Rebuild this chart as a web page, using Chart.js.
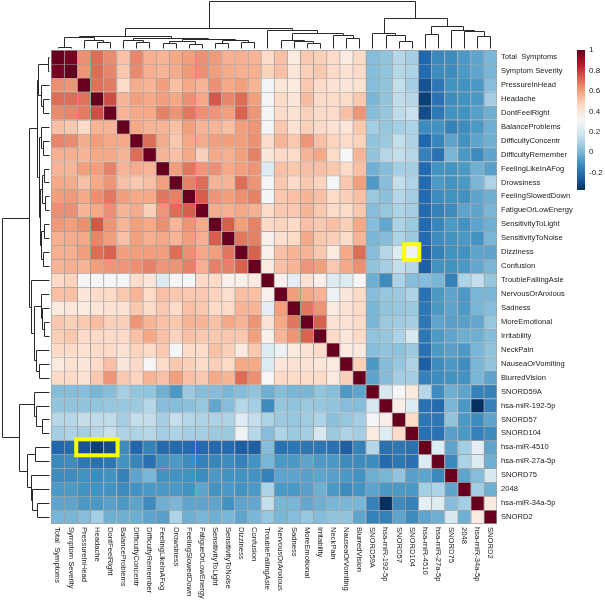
<!DOCTYPE html>
<html>
<head>
<meta charset="utf-8">
<title>Symptom / miRNA correlation heatmap</title>
<script src="https://cdn.jsdelivr.net/npm/chart.js@4.4.1/dist/chart.umd.min.js"></script>
<style>
  html, body { margin: 0; padding: 0; background: #fff; }
  canvas { display: block; }
</style>
</head>
<body>
<canvas id="heatmap" width="605" height="600"></canvas>
<script>
// variables, in the clustered order used for both rows and columns
const variables = [
    'Total  Symptoms', 'Symptom Severity', 'PressureInHead', 'Headache', 'DontFeelRight',
    'BalanceProblems', 'DifficultyConcentr', 'DifficultyRemember', 'FeelingLikeInAFog',
    'Drowsiness', 'FeelingSlowedDown', 'FatigueOrLowEnergy', 'SensitivityToLight',
    'SensitivityToNoise', 'Dizziness', 'Confusion', 'TroubleFallingAsle', 'NervousOrAnxious',
    'Sadness', 'MoreEmotional', 'Irritability', 'NeckPain', 'NauseaOrVomiting', 'BlurredVision',
    'SNORD59A', 'hsa-miR-192-5p', 'SNORD57', 'SNORD104', 'hsa-miR-4510', 'hsa-miR-27a-5p',
    'SNORD75', '2048', 'hsa-miR-34a-5p', 'SNORD2'
];

// upper triangle of the correlation matrix: row i holds columns i+1 .. 33
const corrUpper = [
    [.97, .63, .70, .64, .52, .65, .56, .55, .58, .60, .63, .61, .56, .56, .55, .45, .52, .38, .50, .48, .45, .38, .45, .02, .04, .12, .08, -.23, -.13, -.12, -.08, -.05, 0],
    [.62, .70, .65, .50, .64, .56, .55, .57, .61, .63, .60, .57, .56, .56, .47, .52, .40, .48, .50, .45, .42, .45, .02, .04, .12, .10, -.22, -.12, -.12, -.08, -.05, 0],
    [.69, .67, .45, .57, .55, .60, .52, .58, .55, .63, .58, .60, .55, .30, .40, .38, .50, .45, .42, .40, .42, .02, .04, .15, .08, -.28, -.18, -.10, -.10, -.08, .02],
    [.76, .55, .60, .58, .60, .58, .63, .58, .74, .65, .70, .60, .30, .45, .40, .53, .45, .45, .45, .50, 0, .04, .14, .12, -.33, -.20, -.12, -.10, -.08, .08],
    [.55, .58, .58, .66, .62, .68, .63, .62, .60, .72, .62, .30, .45, .42, .48, .45, .45, .52, .62, .02, .05, .14, .16, -.30, -.18, -.10, -.10, -.06, -.02],
    [.58, .55, .55, .52, .60, .55, .55, .52, .60, .62, .30, .50, .42, .48, .45, .42, .40, .50, .08, .05, .08, .10, -.12, -.10, -.15, -.12, -.08, -.02],
    [.70, .57, .50, .58, .57, .60, .60, .60, .63, .44, .55, .50, .62, .52, .47, .45, .47, .04, .06, .15, .10, -.23, -.14, -.05, -.10, -.05, -.02],
    [.55, .52, .58, .48, .58, .56, .60, .66, .40, .45, .45, .55, .58, .45, .32, .55, .04, .12, .15, .12, -.15, -.20, 0, -.08, -.12, -.05],
    [.60, .68, .62, .63, .58, .60, .62, .22, .52, .50, .52, .52, .50, .45, .52, -.02, .02, .08, .08, -.22, -.10, -.10, -.08, -.02, -.06],
    [.66, .70, .55, .55, .70, .62, .30, .50, .45, .50, .47, .30, .50, .60, -.08, .02, .15, .10, -.22, -.08, -.10, -.08, 0, .10],
    [.73, .62, .60, .63, .66, .30, .50, .52, .55, .52, .45, .48, .52, .06, .03, .12, .08, -.22, -.12, -.10, -.10, -.05, -.02],
    [.57, .56, .58, .56, .45, .50, .50, .55, .50, .45, .45, .50, .02, .05, .10, .08, -.22, -.15, -.12, -.05, -.05, 0],
    [.73, .60, .66, .45, .47, .45, .52, .50, .52, .48, .58, .02, -.04, .10, .06, -.22, -.14, -.08, -.10, -.05, -.02],
    [.68, .66, .35, .43, .45, .58, .50, .48, .45, .55, 0, .02, .10, .06, -.22, -.12, -.10, -.08, -.10, 0],
    [.72, .35, .52, .55, .55, .50, .38, .58, .70, .02, .12, .22, .28, -.25, -.15, -.10, -.10, -.05, -.05],
    [.38, .52, .55, .62, .60, .50, .58, .63, .04, .08, .15, .12, -.25, -.10, -.10, -.08, -.04, 0],
    [.35, .25, .42, .35, .22, .22, .32, -.02, -.12, .10, .02, .02, 0, -.15, .10, .15, .05],
    [.60, .58, .55, .28, .40, .45, .02, .05, .06, .10, -.20, -.08, -.05, -.08, 0, 0],
    [.68, .62, .38, .42, .45, 0, .04, .05, .06, -.18, -.08, -.05, -.08, 0, .02],
    [.72, .42, .42, .45, 0, .06, .07, .08, -.18, -.05, -.06, -.06, -.04, .05],
    [.45, .40, .45, .04, .05, .10, .20, -.18, -.08, -.05, -.02, -.02, .02],
    [.38, .38, .02, .04, .03, .06, -.20, -.08, -.06, -.08, 0, .04],
    [.48, -.08, .02, .05, .10, -.25, -.12, -.08, -.12, 0, .04],
    [-.05, .02, .08, .08, -.15, -.12, -.10, -.10, 0, -.05],
    [.20, .30, .38, .12, -.12, -.02, -.05, -.15, -.15],
    [.36, .22, -.20, -.22, 0, -.08, -.37, -.15],
    [.45, -.18, -.18, .04, -.08, -.12, -.05],
    [-.20, -.20, -.06, -.08, -.15, -.12],
    [.22, -.05, .08, .25, -.05],
    [-.13, .10, .22, -.02],
    [-.05, .02, .20],
    [.08, -.02],
    [.38]
];

// cluster tree (same for rows and columns): [left, right, height], leaves are variable indices
const clusterTree = [
    [
        [
            [[0, 1, 3], [2, [3, 4, 12], 16], 22],
            [[5, [6, 7, 12], 17], [[[8, 9, 10], [10, 11, 9], 14], [[12, 13, 10], [14, 15, 12], 16], 19], 21],
            25
        ],
        [16, [[17, [18, [19, 20, 10], 14], 17], [21, [22, 23, 21], 27], 32], 37],
        41
    ],
    [
        [24, [25, [26, 27, 14], 28], 31],
        [[28, 29, 29], [30, [31, [32, 33, 25], 36], 38], 46],
        63
    ],
    98
];

// highlighted cells: one row, one or more neighbouring columns
const highlights = [
    { row: 'Dizziness', cols: ['SNORD104'] },
    { row: 'hsa-miR-4510', cols: ['PressureInHead', 'Headache', 'DontFeelRight'] }
];

const legendTicks = [1, 0.8, 0.6, 0.4, 0.2, 0, -0.2];

// --- colour scale (RdBu, blue -> white -> red) ---
const RDBU = ['#053061', '#2166ac', '#4393c3', '#92c5de', '#d1e5f0', '#f7f7f7',
              '#fddbc7', '#f4a582', '#d6604d', '#b2182b', '#67001f'];
const VMIN = -0.37, VMAX = 1;

function hexRgb(h) {
    return [1, 3, 5].map(i => parseInt(h.slice(i, i + 2), 16));
}

function colorFor(v) {
    let t = (v - VMIN) / (VMAX - VMIN) * (RDBU.length - 1);
    t = Math.max(0, Math.min(RDBU.length - 1, t));
    const i = Math.min(Math.floor(t), RDBU.length - 2);
    const f = t - i;
    const a = hexRgb(RDBU[i]), b = hexRgb(RDBU[i + 1]);
    const c = a.map((x, k) => Math.round(x + (b[k] - x) * f));
    return `rgb(${c[0]},${c[1]},${c[2]})`;
}

// full symmetric matrix from the upper triangle
const n = variables.length;
const corr = variables.map(() => new Array(n).fill(1));
corrUpper.forEach((row, i) => {
    row.forEach((v, k) => {
        const j = i + 1 + k;
        corr[i][j] = v;
        corr[j][i] = v;
    });
});

const FONT = "'Liberation Sans', Arial, sans-serif";
const LABEL_SIZE = 7.6;
const TEXT = '#1a1a1a';

// dendrograms on the left (rows) and top (columns)
const dendroPlugin = {
    id: 'dendro',
    afterDraw(chart) {
        const { ctx, chartArea, scales } = chart;
        const unit = 0.48; // px per height unit
        const crisp = v => Math.round(v) + 0.5;

        function walk(node, leafPos, draw) {
            if (typeof node === 'number') return { p: leafPos(node), h: 0 };
            const a = walk(node[0], leafPos, draw);
            const b = walk(node[1], leafPos, draw);
            draw(a, b, node[2]);
            return { p: (a.p + b.p) / 2, h: node[2] };
        }
        function line(x1, y1, x2, y2) {
            ctx.beginPath();
            ctx.moveTo(crisp(x1), crisp(y1));
            ctx.lineTo(crisp(x2), crisp(y2));
            ctx.stroke();
        }

        ctx.save();
        ctx.strokeStyle = '#2a2a2a';
        ctx.lineWidth = 1;

        // rows, on the left
        const hx = h => chartArea.left - 2 - h * unit;
        walk(clusterTree, i => scales.y.getPixelForValue(i + 0.5), (a, b, h) => {
            const x = hx(h);
            line(hx(a.h), a.p, x, a.p);
            line(hx(b.h), b.p, x, b.p);
            line(x, a.p, x, b.p);
        });

        // columns, on top
        const hy = h => chartArea.top - 2 - h * unit;
        walk(clusterTree, i => scales.x.getPixelForValue(i), (a, b, h) => {
            const y = hy(h);
            line(a.p, hy(a.h), a.p, y);
            line(b.p, hy(b.h), b.p, y);
            line(a.p, y, b.p, y);
        });
        ctx.restore();
    }
};

// column labels, reading downward under the heatmap
const colLabelPlugin = {
    id: 'colLabels',
    afterDraw(chart) {
        const { ctx, chartArea, scales } = chart;
        ctx.save();
        ctx.fillStyle = TEXT;
        ctx.font = `${LABEL_SIZE}px ${FONT}`;
        ctx.textAlign = 'left';
        ctx.textBaseline = 'middle';
        variables.forEach((name, i) => {
            ctx.save();
            ctx.translate(scales.x.getPixelForValue(i), chartArea.bottom + 3);
            ctx.rotate(Math.PI / 2);
            ctx.fillText(name, 0, 0);
            ctx.restore();
        });
        ctx.restore();
    }
};

// yellow boxes around highlighted cells
const highlightPlugin = {
    id: 'highlights',
    afterDatasetsDraw(chart) {
        const { ctx, scales } = chart;
        ctx.save();
        ctx.strokeStyle = '#ffff00';
        ctx.lineWidth = 4;
        highlights.forEach(hl => {
            const r = variables.indexOf(hl.row);
            const cs = hl.cols.map(c => variables.indexOf(c));
            const x0 = scales.x.getPixelForValue(Math.min(...cs) - 0.5);
            const x1 = scales.x.getPixelForValue(Math.max(...cs) + 0.5);
            const y0 = scales.y.getPixelForValue(r);
            const y1 = scales.y.getPixelForValue(r + 1);
            ctx.strokeRect(x0 - 1, y0 - 1, x1 - x0 + 2, y1 - y0 + 2);
        });
        ctx.restore();
    }
};

// colour key on the right
const colorKeyPlugin = {
    id: 'colorKey',
    afterDraw(chart) {
        const { ctx } = chart;
        const left = 577, width = 8, top = 50, height = 140;
        const yOf = v => top + (VMAX - v) / (VMAX - VMIN) * height;
        ctx.save();
        for (let k = 0; k < height; k++) {
            const v = VMAX - (k + 0.5) / height * (VMAX - VMIN);
            ctx.fillStyle = colorFor(v);
            ctx.fillRect(left, top + k, width, 1);
        }
        ctx.fillStyle = TEXT;
        ctx.font = `${LABEL_SIZE + 0.4}px ${FONT}`;
        ctx.textAlign = 'left';
        ctx.textBaseline = 'middle';
        legendTicks.forEach(t => ctx.fillText(String(t), left + width + 4, yOf(t)));
        ctx.restore();
    }
};

const datasets = variables.map((name, r) => ({
    label: name,
    data: variables.map(() => [r, r + 1]),
    backgroundColor: variables.map((_, c) => colorFor(corr[r][c])),
    borderColor: '#a0a0a0',
    borderWidth: ctx => ({
        top: 1,
        left: 1,
        right: ctx.dataIndex === n - 1 ? 1 : 0,
        bottom: ctx.datasetIndex === n - 1 ? 1 : 0
    }),
    borderSkipped: false,
    barPercentage: 1,
    categoryPercentage: 1,
    grouped: false
}));

new Chart(document.getElementById('heatmap').getContext('2d'), {
    type: 'bar',
    data: { labels: variables, datasets },
    options: {
        responsive: false,
        animation: false,
        layout: { padding: { left: 51, top: 50, right: 0, bottom: 0 } },
        plugins: {
            legend: { display: false },
            tooltip: { enabled: false }
        },
        scales: {
            x: {
                type: 'category',
                grid: { display: false, drawTicks: false },
                border: { display: false },
                ticks: { display: false },
                afterFit: axis => { axis.height = 76; }
            },
            y: {
                type: 'linear',
                position: 'right',
                reverse: true,
                min: 0,
                max: n,
                grid: { display: false, drawTicks: false },
                border: { display: false },
                afterBuildTicks: axis => {
                    axis.ticks = variables.map((_, i) => ({ value: i + 0.5 }));
                },
                ticks: {
                    autoSkip: false,
                    padding: 4,
                    color: TEXT,
                    font: { family: FONT, size: LABEL_SIZE },
                    callback: (v, i) => variables[i]
                },
                afterFit: axis => { axis.width = 108; }
            }
        }
    },
    plugins: [dendroPlugin, colLabelPlugin, highlightPlugin, colorKeyPlugin]
});
</script>
</body>
</html>
